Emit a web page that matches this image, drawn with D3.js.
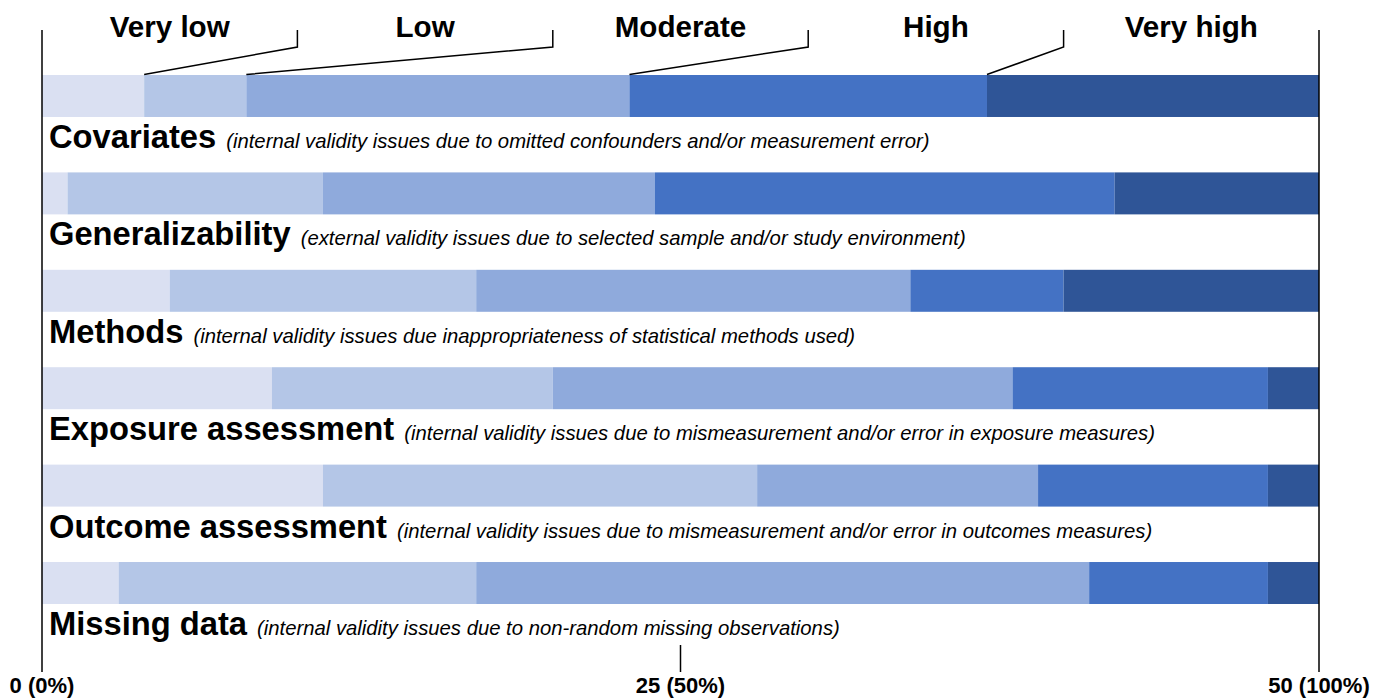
<!DOCTYPE html>
<html>
<head>
<meta charset="utf-8">
<script src="https://cdn.jsdelivr.net/npm/d3@7"></script>
<style>
  body { margin: 0; background: #fff; }
  text { font-family: "Liberation Sans", Arial, sans-serif; fill: #000; }
</style>
</head>
<body>
<svg id="chart" width="1385" height="698"></svg>
<script>
const levels = ['Very low', 'Low', 'Moderate', 'High', 'Very high'];
const colors = ['#dae0f2', '#b4c6e7', '#8faadc', '#4472c4', '#2f5597'];

const categories = ['Covariates', 'Generalizability', 'Methods', 'Exposure assessment', 'Outcome assessment', 'Missing data'];
const descriptions = [
    '(internal validity issues due to omitted confounders and/or measurement error)',
    '(external validity issues due to selected sample and/or study environment)',
    '(internal validity issues due inappropriateness of statistical methods used)',
    '(internal validity issues due to mismeasurement and/or error in exposure measures)',
    '(internal validity issues due to mismeasurement and/or error in outcomes measures)',
    '(internal validity issues due to non-random missing observations)'
];

// number of studies (out of 50) per rating
const veryLow  = [4, 1, 5, 9, 11, 3];
const low      = [4, 10, 12, 11, 17, 14];
const moderate = [15, 13, 17, 18, 11, 24];
const high     = [14, 18, 6, 10, 9, 7];
const veryHigh = [13, 8, 10, 2, 2, 2];

const tickValues = [0, 25, 50];
const tickLabels = ['0 (0%)', '25 (50%)', '50 (100%)'];
const legendCenters = [5, 15, 25, 35, 45];   // in study units
const legendBreaks = [10, 20, 30, 40];

const series = [veryLow, low, moderate, high, veryHigh];
const rows = categories.map((c, i) => {
    const r = {category: c};
    levels.forEach((l, j) => r[l] = series[j][i]);
    return r;
});

const svg = d3.select('#chart');

const x = d3.scaleLinear().domain([0, 50]).range([42, 1319]);
const y = d3.scaleBand()
    .domain(categories)
    .range([75, 604])
    .paddingInner(0.569)
    .paddingOuter(0);

const stacked = d3.stack().keys(levels)(rows);

// bars
svg.append('g').selectAll('g')
    .data(stacked)
    .join('g')
    .attr('fill', (d, i) => colors[i])
    .selectAll('rect')
    .data(d => d)
    .join('rect')
    .attr('x', d => x(d[0]))
    .attr('y', d => y(d.data.category))
    .attr('width', d => x(d[1]) - x(d[0]))
    .attr('height', y.bandwidth());

// category labels + descriptions
categories.forEach((c, i) => {
    const t = svg.append('text')
        .attr('x', 49)
        .attr('y', y(c) + 73);
    t.append('tspan').text(c)
        .style('font-size', '32.7px').style('font-weight', 'bold');
    t.append('tspan').text(descriptions[i])
        .attr('dx', 10)
        .style('font-size', '20.3px').style('font-style', 'italic');
});

// legend labels along the top
svg.append('g').selectAll('text')
    .data(levels)
    .join('text')
    .text(d => d)
    .attr('x', (d, i) => x(legendCenters[i]))
    .attr('y', 37)
    .attr('text-anchor', 'middle')
    .style('font-size', '29.6px')
    .style('font-weight', 'bold');

// leader lines from legend breaks to the first bar's segment edges
svg.append('g').selectAll('path')
    .data(legendBreaks)
    .join('path')
    .attr('d', (b, i) => {
        const edge = x(stacked[i][0][1]);
        return `M${x(b)},30 L${x(b)},47 L${edge},74.5`;
    })
    .attr('fill', 'none')
    .attr('stroke', '#000')
    .attr('stroke-width', 1.5);

// axis: full-height lines at ends, short tick in the middle
svg.append('g').selectAll('line')
    .data(tickValues)
    .join('line')
    .attr('x1', d => x(d))
    .attr('x2', d => x(d))
    .attr('y1', (d, i) => (i === 1 ? 645 : 30))
    .attr('y2', 672)
    .attr('stroke', '#000')
    .attr('stroke-width', 1.5);

svg.append('g').selectAll('text')
    .data(tickValues)
    .join('text')
    .text((d, i) => tickLabels[i])
    .attr('x', d => x(d))
    .attr('y', 693)
    .attr('text-anchor', 'middle')
    .style('font-size', '22px')
    .style('font-weight', 'bold');
</script>
</body>
</html>
